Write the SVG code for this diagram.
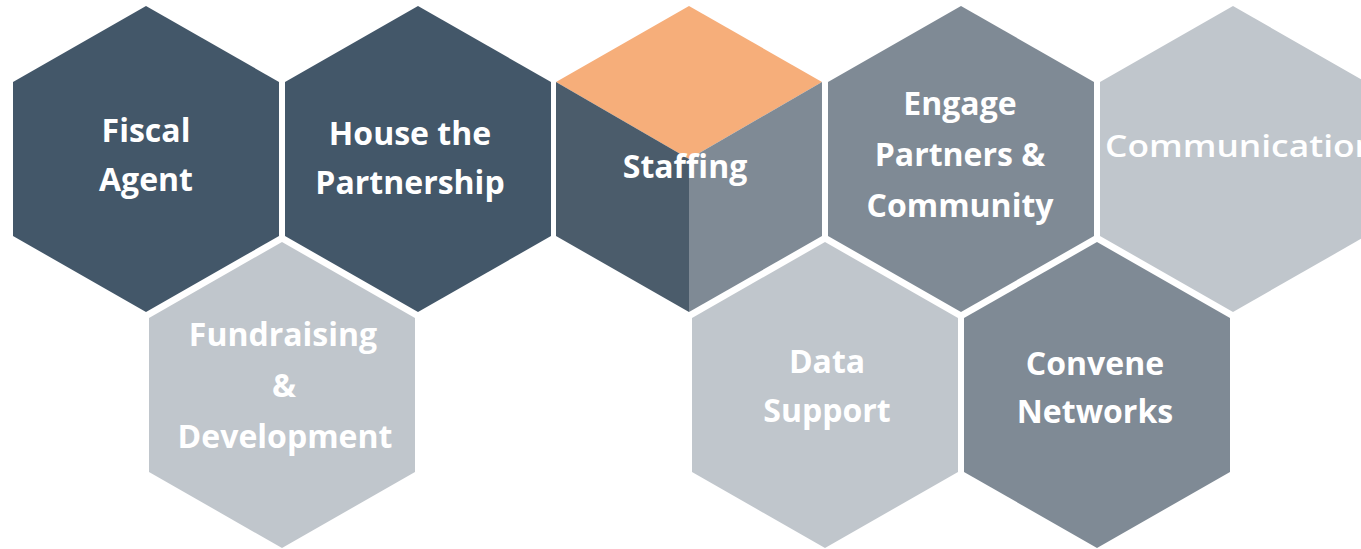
<svg xmlns="http://www.w3.org/2000/svg" width="1361" height="549" viewBox="0 0 1361 549">
<style>
.dark{fill:#435769}
.mid{fill:#7F8A95}
.light{fill:#C0C6CC}
.orange{fill:#F6AE7A}
.cubeL{fill:#4B5C6B}
.t{font-family:"Open Sans","Noto Sans",sans-serif;font-weight:700;font-size:32px;fill:#FFFFFF;text-anchor:middle}
.ts{font-family:"Open Sans","Noto Sans",sans-serif;font-weight:600;font-size:30px;fill:#FFFFFF}
</style>
<rect width="1361" height="549" fill="#FFFFFF"/>
<g id="connectors"/>
<g id="fiscal-agent">
<polygon class="dark" points="146,6 279,82 279,236 146,312 13,236 13,82"/>
<text class="t" x="146" y="142">Fiscal</text>
<text class="t" x="146" y="191">Agent</text>
</g>
<g id="house-the-partnership">
<polygon class="dark" points="418,6 551,82 551,236 418,312 285,236 285,82"/>
<text class="t" x="410" y="145">House the</text>
<text class="t" x="410" y="194">Partnership</text>
</g>
<g id="staffing">
<polygon class="orange" points="689,6 822,82 689,159 556,82"/>
<polygon class="cubeL" points="556,82 689,159 689,312 556,236"/>
<polygon class="mid" points="822,82 822,236 689,312 689,159"/>
<text class="t" x="685" y="178">Staffing</text>
</g>
<g id="engage-partners-community">
<polygon class="mid" points="961,6 1094,82 1094,236 961,312 828,236 828,82"/>
<text class="t" x="960" y="115">Engage</text>
<text class="t" x="960" y="166">Partners &amp;</text>
<text class="t" x="960" y="217">Community</text>
</g>
<g id="communication">
<polygon class="light" points="1233,6 1366,82 1366,236 1233,312 1100,236 1100,82"/>
<text class="ts" x="1105" y="157" textLength="272" lengthAdjust="spacingAndGlyphs">Communication</text>
</g>
<g id="fundraising-development">
<polygon class="light" points="282,242 415,318 415,472 282,548 149,472 149,318"/>
<text class="t" x="283" y="346">Fundraising</text>
<text class="t" x="284" y="397">&amp;</text>
<text class="t" x="285" y="448">Development</text>
</g>
<g id="data-support">
<polygon class="light" points="825,242 958,318 958,472 825,548 692,472 692,318"/>
<text class="t" x="827" y="373">Data</text>
<text class="t" x="827" y="422">Support</text>
</g>
<g id="convene-networks">
<polygon class="mid" points="1097,242 1230,318 1230,472 1097,548 964,472 964,318"/>
<text class="t" x="1095" y="375">Convene</text>
<text class="t" x="1095" y="423">Networks</text>
</g>
</svg>
